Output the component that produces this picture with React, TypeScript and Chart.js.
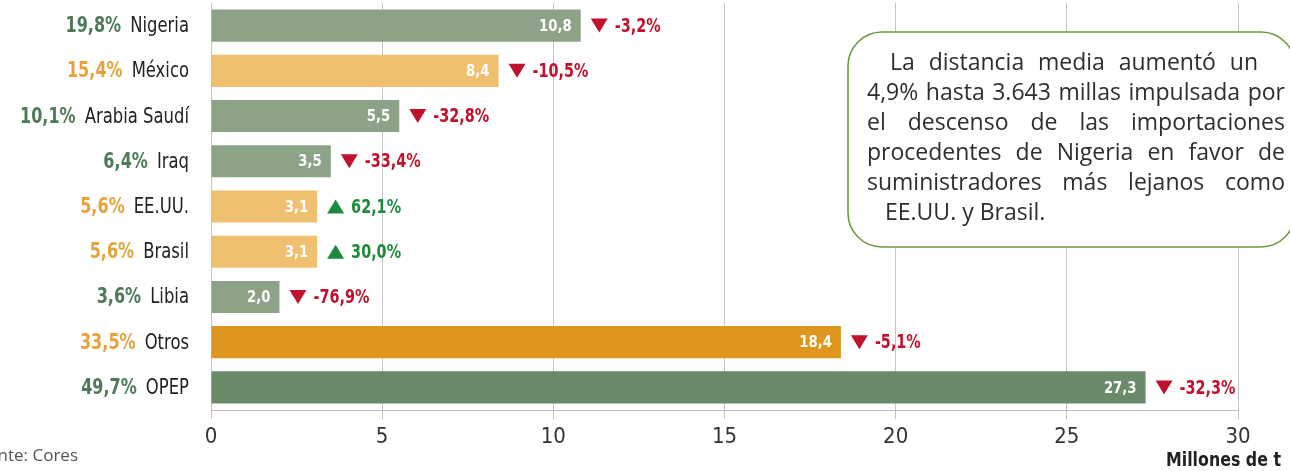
import React, { useEffect, useRef } from "react";
import { Chart, registerables } from "chart.js";
Chart.register(...registerables);

const categories = ["Nigeria", "México", "Arabia Saudí", "Iraq", "EE.UU.", "Brasil", "Libia", "Otros", "OPEP"];
const values = [10.8, 8.4, 5.5, 3.5, 3.1, 3.1, 2.0, 18.4, 27.3];
const shares = ["19,8%", "15,4%", "10,1%", "6,4%", "5,6%", "5,6%", "3,6%", "33,5%", "49,7%"];
const changes = [-3.2, -10.5, -32.8, -33.4, 62.1, 30.0, -76.9, -5.1, -32.3];
const groups = ["opep", "other", "opep", "opep", "other", "other", "opep", "otherTotal", "opepTotal"];
const xTicks = [0, 5, 10, 15, 20, 25, 30];
const axisTitle = "Millones de t";
const sourceText = "Fuente: Cores";
const noteLines = [
  "La distancia media aumentó un",
  "4,9% hasta 3.643 millas impulsada por",
  "el descenso de las importaciones",
  "procedentes de Nigeria en favor de",
  "suministradores más lejanos como",
  "EE.UU. y Brasil.",
];

const barColors: Record<string, string> = {
  opep: "#8ca388",
  other: "#efc070",
  otherTotal: "#df961e",
  opepTotal: "#6a8a69",
};
const shareColors: Record<string, string> = {
  opep: "#4d7b58",
  other: "#e6a33c",
  otherTotal: "#e6a33c",
  opepTotal: "#4d7b58",
};

const NARROW = "'DejaVu Sans Condensed', 'Liberation Sans Narrow', sans-serif";
const fmt1 = (v: number) => v.toFixed(1).replace(".", ",");

// draws text squeezed horizontally by sx, anchored at x according to align; returns drawn width
function drawText(
  ctx: CanvasRenderingContext2D,
  text: string,
  x: number,
  y: number,
  font: string,
  color: string,
  align: CanvasTextAlign,
  sx: number
) {
  ctx.save();
  ctx.font = font;
  ctx.fillStyle = color;
  ctx.textAlign = align;
  ctx.textBaseline = "middle";
  ctx.translate(x, y);
  ctx.scale(sx, 1);
  ctx.fillText(text, 0, 0);
  const w = ctx.measureText(text).width * sx;
  ctx.restore();
  return w;
}

const overlayPlugin = {
  id: "overlay",
  afterDatasetsDraw(chart: any) {
    const ctx = chart.ctx as CanvasRenderingContext2D;
    const meta = chart.getDatasetMeta(0);
    meta.data.forEach((el: any, i: number) => {
      const p = el.getProps(["x", "y", "base", "height"], true);
      // value inside bar
      drawText(ctx, fmt1(values[i]), p.x - 9, p.y + 1, `bold 16px ${NARROW}`, "#ffffff", "right", 0.92);
      // change triangle
      const up = changes[i] > 0;
      const col = up ? "#1d8a3c" : "#c0122c";
      const tx0 = p.x + 10, tx1 = p.x + 27;
      ctx.save();
      ctx.fillStyle = col;
      ctx.beginPath();
      if (up) {
        ctx.moveTo(tx0, p.y + 7);
        ctx.lineTo(tx1, p.y + 7);
        ctx.lineTo((tx0 + tx1) / 2, p.y - 7);
      } else {
        ctx.moveTo(tx0, p.y - 7);
        ctx.lineTo(tx1, p.y - 7);
        ctx.lineTo((tx0 + tx1) / 2, p.y + 7);
      }
      ctx.closePath();
      ctx.fill();
      ctx.restore();
      drawText(ctx, fmt1(changes[i]) + "%", p.x + 34, p.y + 1, `bold 20px ${NARROW}`, col, "left", 0.8);
      // left labels
      const w = drawText(ctx, categories[i], 189, p.y + 1, `21px ${NARROW}`, "#222222", "right", 0.87);
      drawText(ctx, shares[i], 189 - w - 9, p.y + 1, `bold 21px ${NARROW}`, shareColors[groups[i]], "right", 0.85);
    });
  },
  afterDraw(chart: any) {
    const ctx = chart.ctx as CanvasRenderingContext2D;
    // axis title
    drawText(ctx, axisTitle, 1281, 461, `bold 20px ${NARROW}`, "#222222", "right", 0.88);
    // source
    drawText(ctx, sourceText, 78, 456, "17px 'Open Sans', sans-serif", "#555555", "right", 1);
    // callout box
    ctx.save();
    const bx = 848, by = 32, bw = 447, bh = 215, r = 34;
    ctx.beginPath();
    ctx.moveTo(bx + r, by);
    ctx.lineTo(bx + bw - r, by);
    ctx.arcTo(bx + bw, by, bx + bw, by + r, r);
    ctx.lineTo(bx + bw, by + bh - r);
    ctx.arcTo(bx + bw, by + bh, bx + bw - r, by + bh, r);
    ctx.lineTo(bx + r, by + bh);
    ctx.arcTo(bx, by + bh, bx, by + bh - r, r);
    ctx.lineTo(bx, by + r);
    ctx.arcTo(bx, by, bx + r, by, r);
    ctx.closePath();
    ctx.fillStyle = "#ffffff";
    ctx.fill();
    ctx.strokeStyle = "#6b9a3e";
    ctx.lineWidth = 1.6;
    ctx.stroke();
    // note text (justified)
    ctx.font = "23px 'Open Sans', sans-serif";
    ctx.fillStyle = "#2e2e2e";
    ctx.textAlign = "left";
    ctx.textBaseline = "middle";
    const spans = [
      [890, 1258],
      [867, 1285],
      [867, 1285],
      [867, 1285],
      [867, 1285],
      [885, 0],
    ];
    noteLines.forEach((line, i) => {
      const y = 63 + i * 30;
      const [x0, x1] = spans[i];
      const words = line.split(" ");
      if (!x1 || words.length < 2) {
        ctx.fillText(line, x0, y);
        return;
      }
      const natural = ctx.measureText(line).width;
      const sx = natural > x1 - x0 ? (x1 - x0) / natural : 1;
      const total = words.reduce((s, w) => s + ctx.measureText(w).width * sx, 0);
      const gap = (x1 - x0 - total) / (words.length - 1);
      let x = x0;
      words.forEach((w) => {
        ctx.save();
        ctx.translate(x, y);
        ctx.scale(sx, 1);
        ctx.fillText(w, 0, 0);
        ctx.restore();
        x += ctx.measureText(w).width * sx + gap;
      });
    });
    ctx.restore();
  },
};

export default function App() {
  const ref = useRef<HTMLCanvasElement | null>(null);
  useEffect(() => {
    if (!ref.current) return;
    const chart = new Chart(ref.current, {
      type: "bar",
      data: {
        labels: categories,
        datasets: [
          {
            data: values,
            backgroundColor: groups.map((g) => barColors[g]),
            borderWidth: 0,
            barPercentage: 0.71,
            categoryPercentage: 1,
          },
        ],
      },
      options: {
        indexAxis: "y",
        animation: false,
        responsive: true,
        maintainAspectRatio: false,
        layout: { padding: { top: 3, right: 52, left: 0, bottom: 0 } },
        plugins: { legend: { display: false }, tooltip: { enabled: false } },
        scales: {
          x: {
            type: "linear",
            position: "bottom",
            min: xTicks[0],
            max: xTicks[xTicks.length - 1],
            afterBuildTicks: (s: any) => {
              s.ticks = xTicks.map((v) => ({ value: v }));
            },
            afterFit: (s: any) => {
              s.height = 61;
            },
            ticks: {
              font: { family: NARROW, size: 22 },
              color: "#333333",
              padding: 5,
            },
            grid: { color: "#c4c4c4", tickLength: 9, drawTicks: true, lineWidth: 1 },
            border: { color: "#bdbdbd", width: 1 },
          },
          y: {
            ticks: { display: false },
            grid: { display: false },
            border: { display: false },
            afterFit: (s: any) => {
              s.width = 211;
            },
          },
        },
      },
      plugins: [overlayPlugin],
    } as any);
    return () => chart.destroy();
  }, []);
  return (
    <div style={{ position: "fixed", left: 0, top: 0, width: 1290, height: 471, background: "#fff" }}>
      <canvas ref={ref} />
    </div>
  );
}
